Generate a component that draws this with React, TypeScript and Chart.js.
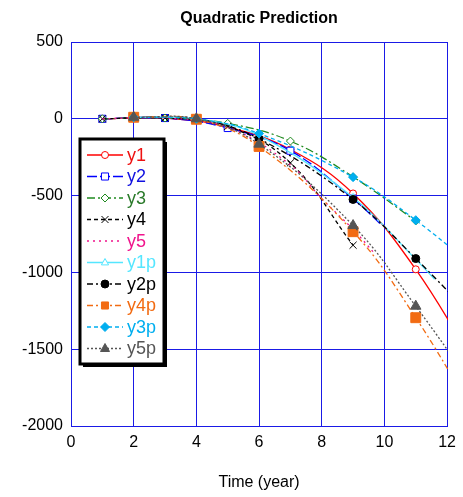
import React, { useEffect, useRef } from 'react';
import { Chart, registerables } from 'chart.js';
Chart.register(...registerables);

// ---- data ----
const y1X = [1, 3, 5, 7, 9, 11, 13];
const y1 = [0, 5, -55, -200, -486, -980, -1640];
const y2X = [1, 3, 5, 7, 9, 9.9];
const y2 = [0, 5, -60, -208, -520, -690];
const y3X = [1, 3, 5, 7, 9, 11];
const y3 = [0, 5, -30, -145, -378, -665];
const y4X = [1, 3, 5, 7, 9];
const y4 = [0, 5, -50, -287, -823];
const y5X = [1, 3, 5, 7, 8, 9, 9.7];
const y5 = [0, 5, -55, -300, -520, -720, -880];
const y1pX = [2, 4, 6, 9, 11, 11.6];
const y1p = [10, 0, -110, -512, -915, -1045];
const y2pX = [2, 4, 6, 9, 11, 13];
const y2p = [10, 0, -130, -525, -910, -1330];
const y4pX = [2, 4, 6, 9, 11, 13];
const y4p = [10, -3, -180, -735, -1295, -1970];
const y3pX = [2, 4, 6, 9, 11, 13];
const y3p = [10, 0, -96, -380, -660, -990];
const y5pX = [2, 4, 6, 9, 11, 13];
const y5p = [10, 0, -165, -695, -1220, -1790];

const xTicks = [0, 2, 4, 6, 8, 10, 12];
const yTicks = [500, 0, -500, -1000, -1500, -2000];

const FONT = '"Liberation Sans", Arial, sans-serif';

type Series = {
  label: string; xs: number[]; ys: number[]; color: string; text: string;
  dash: number[]; point: string | null; filled: boolean; r: number;
};

const series: Series[] = [
  { label: 'y1', xs: y1X, ys: y1, color: '#ff0000', text: '#ee1111', dash: [], point: 'circle', filled: false, r: 3.5 },
  { label: 'y2', xs: y2X, ys: y2, color: '#0000ff', text: '#1010e0', dash: [10, 3], point: 'rect', filled: false, r: 5 },
  { label: 'y3', xs: y3X, ys: y3, color: '#1f8a1f', text: '#2a7a2a', dash: [8, 3, 2, 3], point: 'rectRot', filled: false, r: 4 },
  { label: 'y4', xs: y4X, ys: y4, color: '#000000', text: '#000000', dash: [4, 3], point: 'crossRot', filled: false, r: 5 },
  { label: 'y5', xs: y5X, ys: y5, color: '#f0148c', text: '#f0148c', dash: [2, 4], point: null, filled: false, r: 0 },
  { label: 'y1p', xs: y1pX, ys: y1p, color: '#55e6ff', text: '#55e6ff', dash: [], point: 'triangle', filled: false, r: 4 },
  { label: 'y2p', xs: y2pX, ys: y2p, color: '#000000', text: '#000000', dash: [6, 3, 2, 3], point: 'circle', filled: true, r: 4 },
  { label: 'y4p', xs: y4pX, ys: y4p, color: '#f26b12', text: '#f26b12', dash: [6, 3, 2, 3], point: 'rect', filled: true, r: 7 },
  { label: 'y3p', xs: y3pX, ys: y3p, color: '#00aeef', text: '#00aeef', dash: [4, 3], point: 'rectRot', filled: true, r: 4.5 },
  { label: 'y5p', xs: y5pX, ys: y5p, color: '#555555', text: '#555555', dash: [2, 2], point: 'triangle', filled: true, r: 6 },
];

function drawMarker(ctx: CanvasRenderingContext2D, style: string, x: number, y: number, r: number, color: string, filled: boolean) {
  ctx.save();
  ctx.setLineDash([]);
  ctx.strokeStyle = color;
  ctx.fillStyle = filled ? color : '#ffffff';
  ctx.lineWidth = 1;
  ctx.beginPath();
  if (style === 'circle') {
    ctx.arc(x, y, r, 0, Math.PI * 2);
  } else if (style === 'rect') {
    const s = r * Math.SQRT1_2;
    ctx.rect(x - s, y - s, 2 * s, 2 * s);
  } else if (style === 'rectRot') {
    ctx.moveTo(x, y - r); ctx.lineTo(x + r, y); ctx.lineTo(x, y + r); ctx.lineTo(x - r, y); ctx.closePath();
  } else if (style === 'triangle') {
    const h = r * 1.5;
    ctx.moveTo(x, y - r); ctx.lineTo(x + h * 0.6, y + r * 0.6); ctx.lineTo(x - h * 0.6, y + r * 0.6); ctx.closePath();
  } else if (style === 'crossRot') {
    const s = r * 0.7;
    ctx.moveTo(x - s, y - s); ctx.lineTo(x + s, y + s); ctx.moveTo(x + s, y - s); ctx.lineTo(x - s, y + s);
    ctx.stroke(); ctx.restore(); return;
  }
  ctx.fill();
  ctx.stroke();
  ctx.restore();
}

const overlay = {
  id: 'overlay',
  afterDraw(chart: any) {
    const ctx: CanvasRenderingContext2D = chart.ctx;
    const area = chart.chartArea;
    const cx = (area.left + area.right) / 2;
    ctx.save();
    ctx.fillStyle = '#000';
    ctx.textAlign = 'center';
    ctx.textBaseline = 'middle';
    ctx.font = `bold 16px ${FONT}`;
    ctx.fillText('Quadratic Prediction', cx, 19);
    ctx.font = `16px ${FONT}`;
    ctx.fillText('Time (year)', cx, 483);

    // legend box
    const bx = 80, by = 139, bw = 84, bh = 225;
    ctx.fillStyle = '#000';
    ctx.fillRect(bx + 3, by + 3, bw, bh);
    ctx.fillStyle = '#fff';
    ctx.fillRect(bx, by, bw, bh);
    ctx.lineWidth = 3;
    ctx.strokeStyle = '#000';
    ctx.strokeRect(bx, by, bw, bh);

    series.forEach((s, i) => {
      const yy = 155 + i * 21.5;
      ctx.save();
      ctx.strokeStyle = s.color;
      ctx.lineWidth = 1.3;
      ctx.setLineDash(s.dash);
      ctx.beginPath();
      ctx.moveTo(87, yy);
      ctx.lineTo(123, yy);
      ctx.stroke();
      ctx.restore();
      if (s.point) drawMarker(ctx, s.point, 105, yy, Math.min(s.r, 5), s.color, s.filled);
      ctx.fillStyle = s.text;
      ctx.textAlign = 'left';
      ctx.textBaseline = 'middle';
      ctx.font = `18px ${FONT}`;
      ctx.fillText(s.label, 127, yy + 1);
    });
    ctx.restore();
  },
};

export default function App() {
  const ref = useRef<HTMLCanvasElement>(null);
  useEffect(() => {
    const gridColor = '#1a1ae6';
    const chart = new Chart(ref.current!, {
      type: 'line',
      data: {
        datasets: series.map((s, i) => ({
          label: s.label,
          data: s.xs.map((x, j) => ({ x, y: s.ys[j] })),
          order: series.length - i,
          borderColor: s.color,
          backgroundColor: s.color,
          borderWidth: 1.3,
          borderDash: s.dash,
          pointStyle: (s.point || 'circle') as any,
          // markers only on whole-year points inside the axis range
          pointRadius: s.xs.map((x) => (s.point && Number.isInteger(x) && x <= 12 ? s.r : 0)),
          pointBorderColor: s.color,
          pointBackgroundColor: s.filled ? s.color : '#ffffff',
          pointBorderWidth: 1,
          tension: 0.4,
          fill: false,
          clip: 1,
        })),
      },
      options: {
        responsive: false,
        animation: false,
        devicePixelRatio: 1,
        layout: { padding: { top: 42, right: 15, left: 0, bottom: 0 } },
        plugins: { legend: { display: false }, title: { display: false }, tooltip: { enabled: false } },
        scales: {
          x: {
            type: 'linear',
            min: 0,
            max: 12,
            afterBuildTicks: (scale: any) => { scale.ticks = xTicks.map((v) => ({ value: v })); },
            ticks: { color: '#000', font: { family: FONT, size: 16 }, padding: 7, maxRotation: 0, callback: (v: any) => String(v) },
            grid: { color: gridColor, drawTicks: false, lineWidth: 1 },
            border: { color: gridColor, width: 1 },
            afterFit: (scale: any) => { scale.height = 71; },
          },
          y: {
            type: 'linear',
            min: -2000,
            max: 500,
            afterBuildTicks: (scale: any) => { scale.ticks = yTicks.map((v) => ({ value: v })); },
            ticks: { color: '#000', font: { family: FONT, size: 16 }, padding: 8, callback: (v: any) => String(v) },
            grid: { color: gridColor, drawTicks: false, lineWidth: 1 },
            border: { color: gridColor, width: 1 },
            afterFit: (scale: any) => { scale.width = 71; },
          },
        },
      } as any,
      plugins: [overlay],
    });
    return () => chart.destroy();
  }, []);
  return (
    <div style={{ position: 'fixed', left: 0, top: 0, width: 463, height: 497, background: '#fff' }}>
      <canvas ref={ref} width={463} height={497} style={{ display: 'block', width: 463, height: 497 }} />
    </div>
  );
}
